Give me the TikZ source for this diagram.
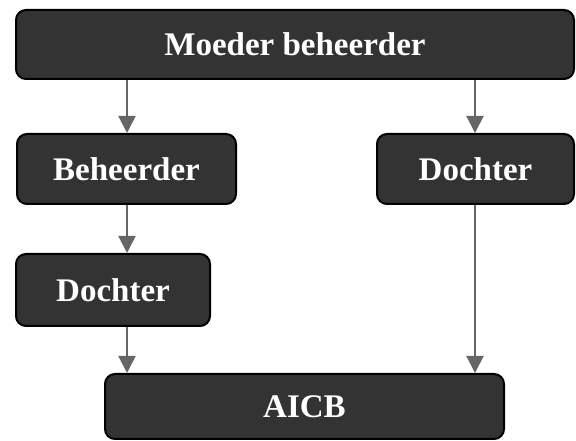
\documentclass[tikz,border=0pt]{standalone}
\usepackage{fontspec}
\setmainfont{Liberation Serif}
\usetikzlibrary{arrows.meta}
\definecolor{boxfill}{HTML}{333333}
\definecolor{arrgray}{HTML}{666666}
\tikzset{
  box/.style={draw=black, line width=2pt, fill=boxfill, rounded corners=10pt,
    text=white, font=\fontsize{33}{40}\selectfont\bfseries, inner sep=0pt},
  arr/.style={draw=arrgray, line width=2pt, -{Triangle[length=17pt,width=17pt]}, arrgray},
}
\begin{document}
\begin{tikzpicture}[x=1pt,y=1pt]
\useasboundingbox (0,0) rectangle (576,441);
\node[box, minimum width=558pt, minimum height=69pt] (moeder) at (295,396.5) {Moeder beheerder};
\node[box, minimum width=219pt, minimum height=70pt] (beh) at (126.5,272) {Beheerder};
\node[box, minimum width=197pt, minimum height=70pt] (dr) at (475.5,272) {Dochter};
\node[box, minimum width=194pt, minimum height=72pt] (dl) at (113,151) {Dochter};
\node[box, minimum width=399pt, minimum height=65pt] (aicb) at (304.5,34.5) {AICB};
\coordinate (colA) at (127,0);
\coordinate (colB) at (475,0);
\draw[arr] (moeder.south -| colA) -- (beh.north -| colA);
\draw[arr] (moeder.south -| colB) -- (dr.north -| colB);
\draw[arr] (beh.south -| colA) -- (dl.north -| colA);
\draw[arr] (dl.south -| colA) -- (aicb.north -| colA);
\draw[arr] (dr.south -| colB) -- (aicb.north -| colB);
\end{tikzpicture}
\end{document}
